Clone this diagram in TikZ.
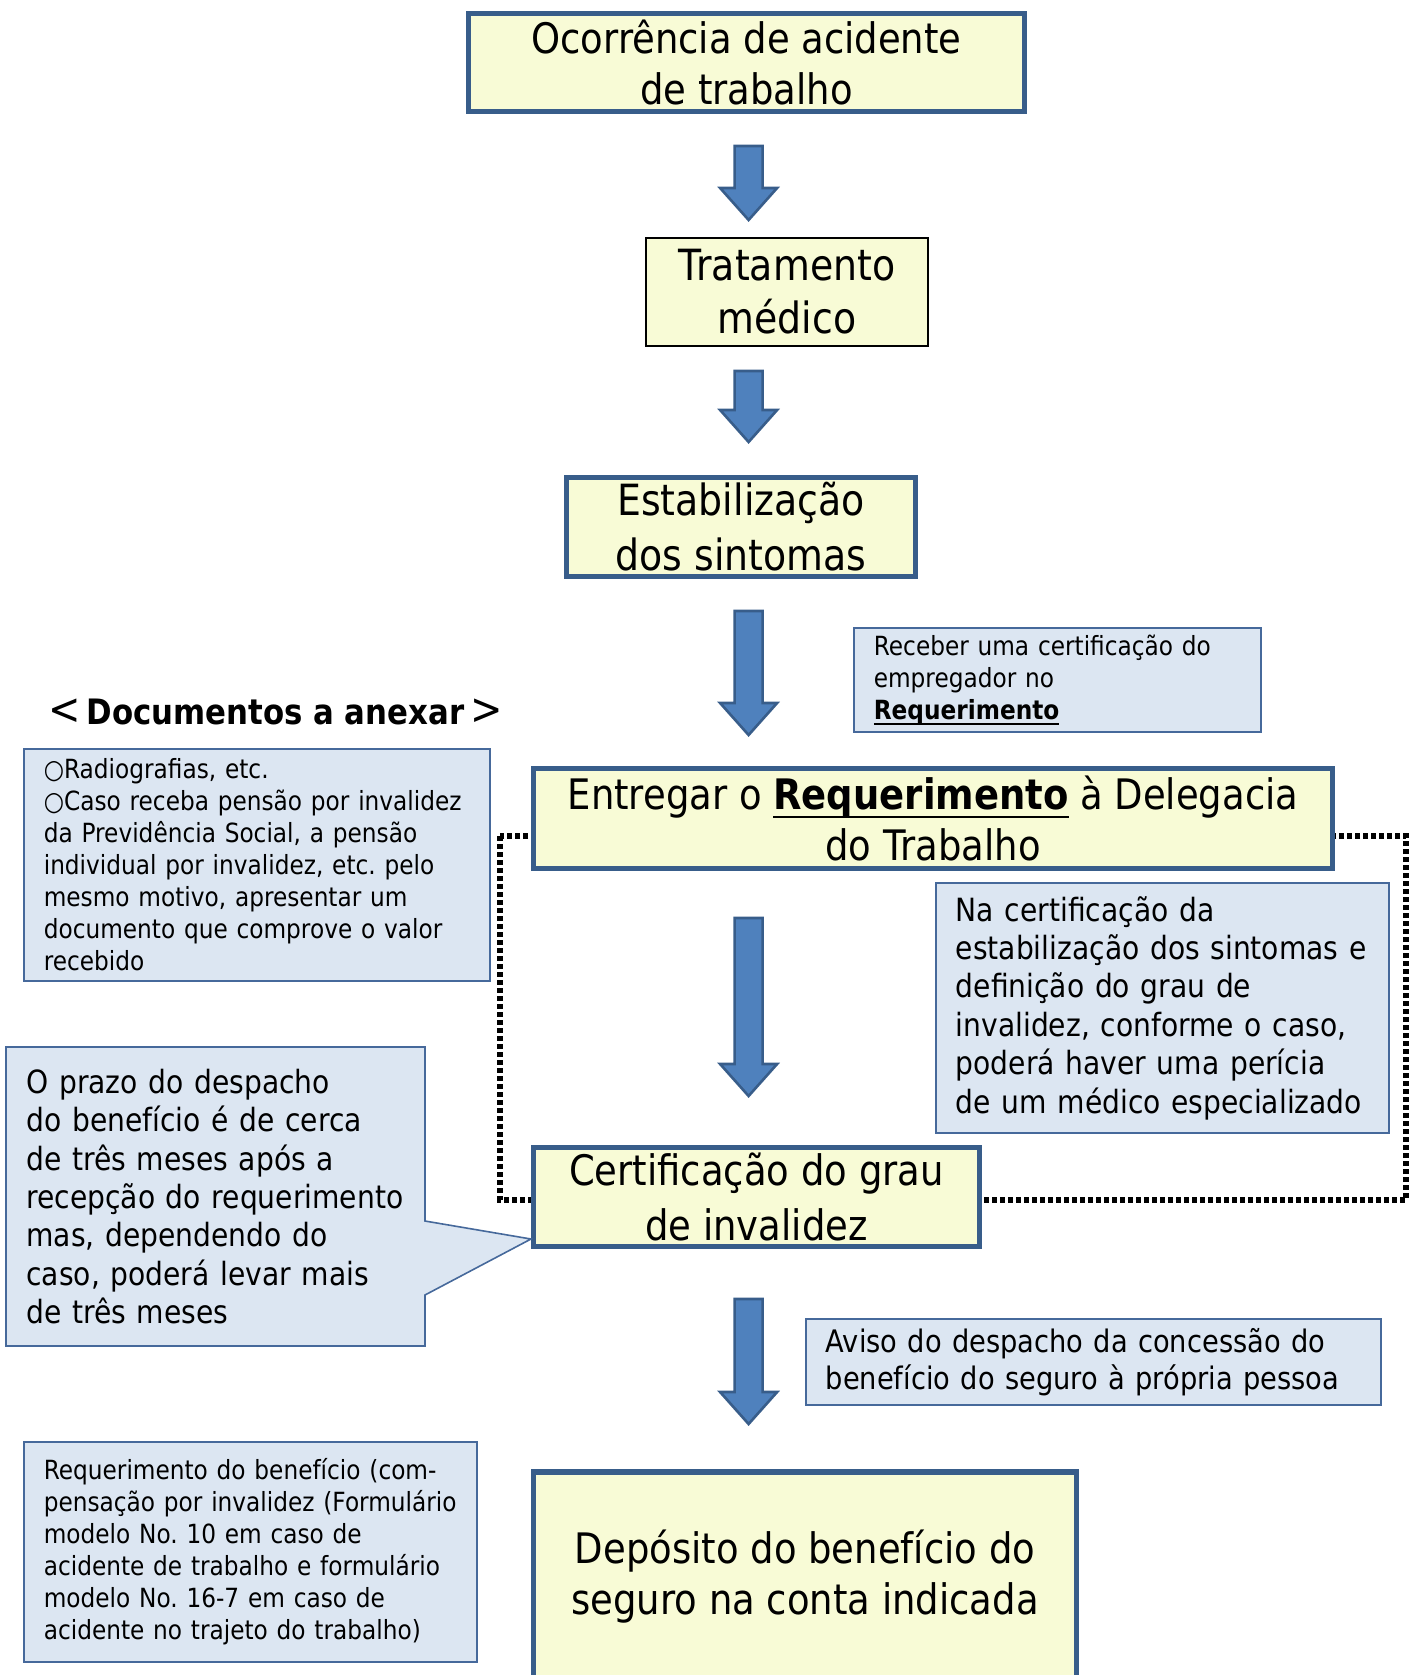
\documentclass[tikz,border=0pt]{standalone}
\usepackage{fontspec}
\setmainfont{DejaVu Sans}[FakeStretch=0.88]
\usetikzlibrary{calc}
\definecolor{boxfill}{RGB}{248,251,214}
\definecolor{boxedge}{RGB}{56,93,138}
\definecolor{notefill}{RGB}{220,230,242}
\definecolor{noteedge}{RGB}{70,105,155}
\definecolor{arrowfill}{RGB}{79,129,189}
\tikzset{
    stepbox/.style={draw=boxedge, line width=2.6pt, fill=boxfill, inner sep=0pt, align=center},
    plainbox/.style={draw=black, line width=0.8pt, fill=boxfill, inner sep=0pt, align=center},
    notebox/.style={draw=noteedge, line width=0.8pt, fill=notefill, inner xsep=10pt, inner ysep=0pt, align=left, anchor=west},
    callout/.style={draw=noteedge, line width=0.8pt, fill=notefill, line join=miter},
    blockarrow/.style={draw=boxedge, line width=1.3pt, fill=arrowfill, line join=miter},
    frame/.style={line width=2.8pt, dash pattern=on 2.4pt off 1.6pt},
}
\newcommand{\flowarrow}[2]{%
  \draw[blockarrow] let \p1=(#1), \p2=(#2) in
    (\x1-7pt,\y1) -- (\x1+7pt,\y1) -- (\x1+7pt,\y2+16pt) -- (\x1+14.25pt,\y2+16pt)
    -- (\x1,\y2) -- (\x1-14.25pt,\y2+16pt) -- (\x1-7pt,\y2+16pt) -- cycle;}
\newcommand{\underword}[1]{\leavevmode\setbox0\hbox{#1}\rlap{\rule[-0.21em]{\wd0}{0.065em}}\box0\relax}
\newcommand{\smalltext}{\fontsize{13.2}{16}\selectfont}
\newcommand{\midtext}{\fontsize{16}{19.2}\selectfont}
\frenchspacing

\begin{document}
\begin{tikzpicture}[x=0.5pt,y=-0.5pt]
\useasboundingbox (0,0) rectangle (1416,1675);
\draw[frame] (500,836) rectangle (1406,1200);

\node[stepbox, minimum width=277.9pt, minimum height=48.9pt, font=\fontsize{21}{25.5}\selectfont]
    (occ) at (746.5,62.5) {Ocorrência de acidente\\de trabalho};
\node[plainbox, minimum width=141.2pt, minimum height=54.2pt, font=\fontsize{21.5}{26.5}\selectfont]
    (med) at (787,292) {Tratamento\\médico};
\node[stepbox, minimum width=174.4pt, minimum height=49.4pt, font=\fontsize{21.5}{27.5}\selectfont]
    (estab) at (741,527) {Estabilização\\dos sintomas};
\node[stepbox, minimum width=399.4pt, minimum height=49.9pt, font=\fontsize{21}{25.5}\selectfont]
    (entrega) at (933,818.5) {Entregar o \underword{\textbf{Requerimento}} à Delegacia\\do Trabalho};
\node[stepbox, minimum width=222.9pt, minimum height=49.4pt, font=\fontsize{21}{27.5}\selectfont]
    (cert) at (756.5,1197) {Certificação do grau\\de invalidez};
\node[stepbox, minimum width=271.4pt, minimum height=105pt, font=\fontsize{21}{25.5}\selectfont]
    (deposito) at (805,1577) {Depósito do benefício do\\seguro na conta indicada};

\coordinate (a1) at (748.6,146);  \coordinate (b1) at (748.6,220);
\coordinate (a2) at (748.6,371);  \coordinate (b2) at (748.6,442);
\coordinate (a3) at (748.6,611);  \coordinate (b3) at (748.6,735);
\coordinate (a4) at (748.6,918);  \coordinate (b4) at (748.6,1096);
\coordinate (a5) at (748.6,1299); \coordinate (b5) at (748.6,1424);
\flowarrow{a1}{b1}
\flowarrow{a2}{b2}
\flowarrow{a3}{b3}
\flowarrow{a4}{b4}
\flowarrow{a5}{b5}

\node[notebox, text width=183.7pt, minimum height=52.2pt, font=\smalltext]
    (empregador) at (853,680) {Receber uma certificação do\\empregador no\\\underword{\textbf{Requerimento}}};
\node[font=\fontsize{17.5}{20}\selectfont] (docshead) at (275.5,712)
    {{\fontsize{22}{20}\selectfont<}\,\textbf{Documentos a anexar}\,{\fontsize{22}{20}\selectfont>}};
\node[notebox, text width=213.2pt, minimum height=116.2pt, font=\smalltext]
    (anexos) at (23,865) {○Radiografias, etc.\\○Caso receba pensão por invalidez\\da Previdência Social, a pensão\\individual por invalidez, etc. pelo\\mesmo motivo, apresentar um\\documento que comprove o valor\\recebido};
\node[notebox, text width=206.7pt, minimum height=125.2pt, font=\midtext]
    (pericia) at (935,1008) {Na certificação da\\estabilização dos sintomas e\\definição do grau de\\invalidez, conforme o caso,\\poderá haver uma perícia\\de um médico especializado};

\coordinate (tip) at (cert.west |- 0,1239);
\filldraw[callout] (6,1047) -- (425,1047) -- (425,1221) -- (tip) -- (425,1295) -- (425,1346) -- (6,1346) -- cycle;
\node[inner xsep=10pt, inner ysep=0pt, align=left, anchor=west, text width=189pt, font=\midtext]
    (prazo) at (6,1196.5) {O prazo do despacho\\do benefício é de cerca\\de três meses após a\\recepção do requerimento\\mas, dependendo do\\caso, poderá levar mais\\de três meses};

\node[notebox, text width=267.7pt, minimum height=43.2pt, font=\fontsize{15.5}{18.7}\selectfont]
    (aviso) at (805,1362) {Aviso do despacho da concessão do\\benefício do seguro à própria pessoa};
\node[notebox, text width=206.7pt, minimum height=110.2pt, font=\smalltext]
    (formulario) at (23,1552) {Requerimento do benefício (com-\\pensação por invalidez (Formulário\\modelo No. 10 em caso de\\acidente de trabalho e formulário\\modelo No. 16-7 em caso de\\acidente no trajeto do trabalho)};
\end{tikzpicture}
\end{document}
